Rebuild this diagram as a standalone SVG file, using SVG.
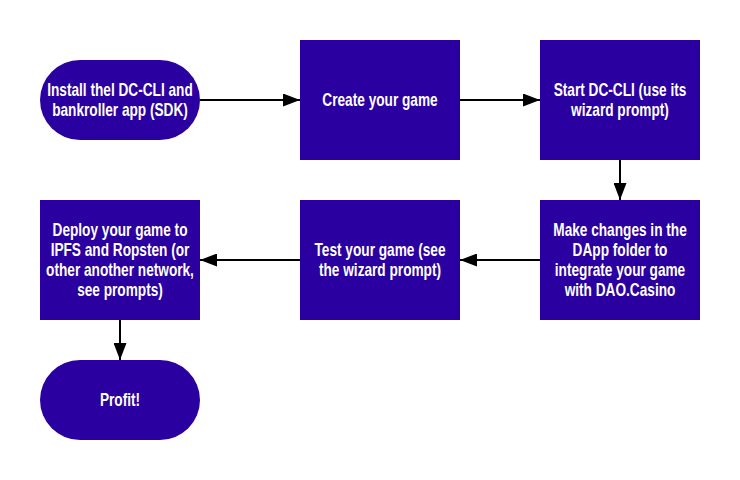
<svg xmlns="http://www.w3.org/2000/svg" width="740" height="480" viewBox="0 0 740 480">
<defs>
<marker id="ah" markerWidth="17" markerHeight="13" refX="17" refY="6.5" orient="auto" markerUnits="userSpaceOnUse"><path d="M0,0 L17,6.5 L0,13 Z" fill="#000"/></marker>
<style>
.n{fill:#2a00a0;}
.t{fill:#fff;font-family:"Liberation Sans",Arial,sans-serif;font-weight:bold;font-size:17.5px;text-anchor:middle;}
.c{stroke:#000;stroke-width:2;fill:none;marker-end:url(#ah);}
</style>
</defs>
<rect width="740" height="480" fill="#fff"/>
<g id="connectors">
<line class="c" x1="200" y1="100" x2="300" y2="100"/>
<line class="c" x1="460" y1="100" x2="540" y2="100"/>
<line class="c" x1="620" y1="160" x2="620" y2="200"/>
<line class="c" x1="540" y1="260" x2="460" y2="260"/>
<line class="c" x1="300" y1="260" x2="200" y2="260"/>
<line class="c" x1="120" y1="320" x2="120" y2="360"/>
</g>
<g id="install"><rect class="n" x="40" y="60" width="160" height="80" rx="40"/><g transform="translate(120,0) scale(0.78,1)"><text class="t" x="0" y="96.5">Install thel DC-CLI and</text><text class="t" x="0" y="116.5">bankroller app (SDK)</text></g></g>
<g id="create"><rect class="n" x="300" y="40" width="160" height="120"/><g transform="translate(380,0) scale(0.78,1)"><text class="t" x="0" y="106.5">Create your game</text></g></g>
<g id="start"><rect class="n" x="540" y="40" width="160" height="120"/><g transform="translate(620,0) scale(0.78,1)"><text class="t" x="0" y="96.5">Start DC-CLI (use its</text><text class="t" x="0" y="116.5">wizard prompt)</text></g></g>
<g id="changes"><rect class="n" x="540" y="200" width="160" height="120"/><g transform="translate(620,0) scale(0.78,1)"><text class="t" x="0" y="236.5">Make changes in the</text><text class="t" x="0" y="256.5">DApp folder to</text><text class="t" x="0" y="276.5">integrate your game</text><text class="t" x="0" y="296.5">with DAO.Casino</text></g></g>
<g id="test"><rect class="n" x="300" y="200" width="160" height="120"/><g transform="translate(380,0) scale(0.78,1)"><text class="t" x="0" y="256.5">Test your game (see</text><text class="t" x="0" y="276.5">the wizard prompt)</text></g></g>
<g id="deploy"><rect class="n" x="40" y="200" width="160" height="120"/><g transform="translate(120,0) scale(0.78,1)"><text class="t" x="0" y="236.5">Deploy your game to</text><text class="t" x="0" y="256.5">IPFS and Ropsten (or</text><text class="t" x="0" y="276.5">other another network,</text><text class="t" x="0" y="296.5">see prompts)</text></g></g>
<g id="profit"><rect class="n" x="40" y="360" width="160" height="80" rx="40"/><g transform="translate(120,0) scale(0.78,1)"><text class="t" x="0" y="406.5">Profit!</text></g></g>
</svg>
